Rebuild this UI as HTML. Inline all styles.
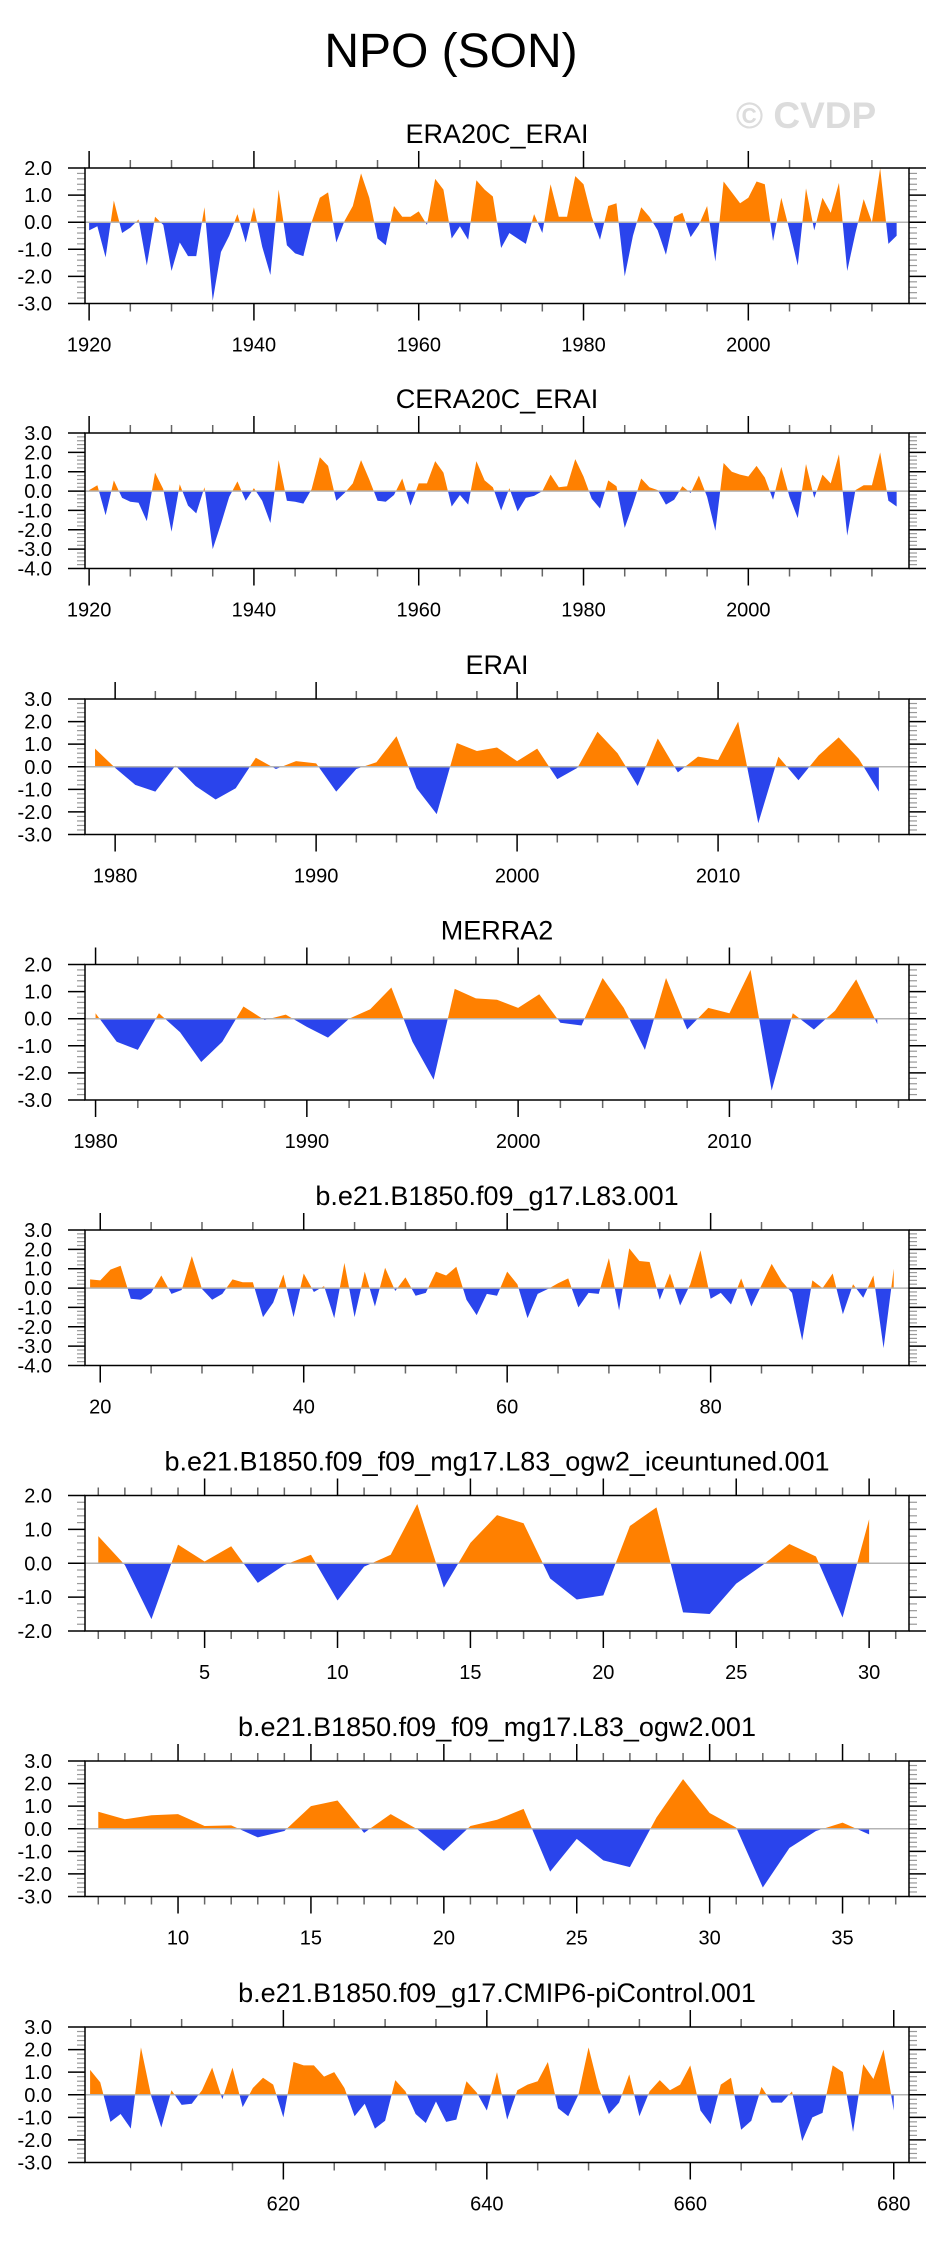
<!DOCTYPE html>
<html><head><meta charset="utf-8"><style>
html,body{margin:0;padding:0;background:#fff;}
svg{display:block;font-family:"Liberation Sans",Arial,sans-serif;}
</style></head><body>
<svg id="fig" width="930" height="2241" viewBox="0 0 930 2241" xmlns="http://www.w3.org/2000/svg">
<text x="451" y="67" font-size="48" text-anchor="middle">NPO (SON)</text>
<text x="806" y="128" font-size="37" font-weight="bold" fill="#dcdcdc" text-anchor="middle">© CVDP</text>
</svg>
<script>
const era20cYears0 = 1920;
const era20cValues = [-0.3,-0.15,-1.3,0.8,-0.4,-0.2,0.1,-1.6,0.2,-0.1,-1.8,-0.75,-1.25,-1.25,0.55,-2.9,-1.1,-0.5,0.3,-0.75,0.55,-0.9,-1.95,1.2,-0.85,-1.15,-1.25,0.0,0.9,1.1,-0.75,0.05,0.6,1.8,0.9,-0.6,-0.85,0.6,0.2,0.2,0.4,-0.1,1.6,1.2,-0.6,-0.15,-0.65,1.55,1.2,0.95,-0.95,-0.4,-0.6,-0.8,0.3,-0.4,1.4,0.2,0.2,1.7,1.4,0.2,-0.65,0.6,0.7,-2.0,-0.5,0.55,0.2,-0.3,-1.2,0.2,0.35,-0.55,-0.1,0.6,-1.45,1.5,1.1,0.7,0.9,1.5,1.4,-0.7,0.9,-0.3,-1.6,1.25,-0.3,0.9,0.35,1.45,-1.8,-0.4,0.85,0.0,2.0,-0.8,-0.5];
const cera20cYears0 = 1920;
const cera20cValues = [0.05,0.3,-1.25,0.55,-0.35,-0.55,-0.6,-1.55,0.95,0.1,-2.1,0.35,-0.75,-1.15,0.2,-3.0,-1.7,-0.3,0.5,-0.5,0.15,-0.5,-1.65,1.6,-0.5,-0.55,-0.65,0.1,1.75,1.3,-0.5,-0.1,0.4,1.6,0.6,-0.5,-0.55,-0.2,0.65,-0.75,0.4,0.4,1.55,0.95,-0.8,-0.2,-0.7,1.55,0.55,0.2,-1.0,0.15,-1.05,-0.35,-0.25,0.0,0.85,0.2,0.25,1.65,0.75,-0.4,-0.9,0.55,0.25,-1.9,-0.7,0.65,0.2,0.05,-0.7,-0.45,0.25,-0.1,0.8,-0.3,-2.05,1.45,1.0,0.85,0.75,1.3,0.7,-0.45,1.25,-0.3,-1.4,1.4,-0.35,0.85,0.4,1.9,-2.3,0.05,0.3,0.3,2.0,-0.5,-0.8];
const eraiYears0 = 1979;
const eraiValues = [0.8,-0.05,-0.8,-1.1,0.05,-0.85,-1.45,-0.95,0.4,-0.1,0.25,0.15,-1.1,-0.1,0.2,1.35,-0.95,-2.1,1.05,0.7,0.85,0.25,0.8,-0.55,-0.05,1.55,0.6,-0.85,1.25,-0.25,0.45,0.3,2.0,-2.5,0.45,-0.6,0.5,1.3,0.35,-1.1];
const merraYears0 = 1980;
const merraValues = [0.2,-0.85,-1.15,0.2,-0.5,-1.6,-0.85,0.45,-0.05,0.15,-0.3,-0.7,0.0,0.35,1.15,-0.85,-2.25,1.1,0.75,0.7,0.4,0.9,-0.15,-0.25,1.5,0.4,-1.15,1.5,-0.4,0.4,0.2,1.8,-2.65,0.2,-0.4,0.3,1.45,-0.2];
const g17Years0 = 19;
const g17Values = [0.45,0.4,0.95,1.15,-0.55,-0.6,-0.25,0.65,-0.3,-0.1,1.65,-0.05,-0.6,-0.3,0.45,0.3,0.3,-1.5,-0.75,0.7,-1.5,0.75,-0.2,0.1,-1.55,1.3,-1.5,0.85,-0.95,1.05,-0.15,0.55,-0.4,-0.25,0.85,0.65,1.1,-0.6,-1.4,-0.3,-0.4,0.85,0.2,-1.55,-0.3,-0.05,0.25,0.5,-1.0,-0.25,-0.3,1.55,-1.15,2.05,1.4,1.35,-0.6,0.75,-0.9,0.2,1.95,-0.55,-0.25,-0.85,0.5,-0.95,0.15,1.25,0.35,-0.25,-2.7,0.4,0.0,0.75,-1.35,0.2,-0.5,0.65,-3.1,1.0];
const iceYears0 = 1;
const iceValues = [0.8,-0.05,-1.65,0.55,0.05,0.5,-0.58,-0.05,0.25,-1.1,-0.1,0.25,1.75,-0.72,0.6,1.42,1.18,-0.45,-1.07,-0.95,1.1,1.65,-1.45,-1.5,-0.6,-0.05,0.57,0.2,-1.6,1.3];
const ogwYears0 = 7;
const ogwValues = [0.75,0.42,0.6,0.65,0.12,0.15,-0.38,-0.1,1.0,1.25,-0.18,0.65,-0.02,-0.98,0.12,0.4,0.88,-1.9,-0.45,-1.4,-1.7,0.5,2.2,0.7,0.05,-2.6,-0.85,-0.1,0.27,-0.25];
const piYears0 = 601;
const piValues = [1.1,0.55,-1.2,-0.85,-1.5,2.1,-0.05,-1.45,0.2,-0.45,-0.4,0.2,1.2,-0.2,1.2,-0.55,0.3,0.75,0.45,-1.0,1.45,1.3,1.3,0.8,1.0,0.3,-0.95,-0.4,-1.5,-1.15,0.65,0.15,-0.85,-1.25,-0.3,-1.2,-1.1,0.6,0.1,-0.7,1.0,-1.1,0.2,0.45,0.6,1.45,-0.6,-0.95,0.0,2.1,0.3,-0.85,-0.35,0.9,-0.95,0.15,0.65,0.2,0.45,1.3,-0.7,-1.3,0.45,0.75,-1.55,-1.15,0.35,-0.35,-0.35,0.15,-2.05,-1.0,-0.8,1.3,1.0,-1.65,1.35,0.7,2.0,-0.7];

const panels = [
 {name:'era20c-erai', title:'ERA20C_ERAI', top:168, y0:era20cYears0, vals:era20cValues, ymax:2, ymin:-3, minorX:5, majorX:20},
 {name:'cera20c-erai', title:'CERA20C_ERAI', top:433, y0:cera20cYears0, vals:cera20cValues, ymax:3, ymin:-4, minorX:5, majorX:20},
 {name:'erai', title:'ERAI', top:699, y0:eraiYears0, vals:eraiValues, ymax:3, ymin:-3, minorX:2, majorX:10},
 {name:'merra2', title:'MERRA2', top:964.5, y0:merraYears0, vals:merraValues, ymax:2, ymin:-3, minorX:2, majorX:10},
 {name:'b1850-g17', title:'b.e21.B1850.f09_g17.L83.001', top:1230, y0:g17Years0, vals:g17Values, ymax:3, ymin:-4, minorX:5, majorX:20},
 {name:'b1850-iceuntuned', title:'b.e21.B1850.f09_f09_mg17.L83_ogw2_iceuntuned.001', top:1495.5, y0:iceYears0, vals:iceValues, ymax:2, ymin:-2, minorX:1, majorX:5},
 {name:'b1850-ogw2', title:'b.e21.B1850.f09_f09_mg17.L83_ogw2.001', top:1761, y0:ogwYears0, vals:ogwValues, ymax:3, ymin:-3, minorX:1, majorX:5},
 {name:'b1850-picontrol', title:'b.e21.B1850.f09_g17.CMIP6-piControl.001', top:2027, y0:piYears0, vals:piValues, ymax:3, ymin:-3, minorX:5, majorX:20}
];
const NS='http://www.w3.org/2000/svg';
const svg=document.getElementById('fig');
const L=85, R=909, H=135.5;
function mk(tag, attrs, parent){const e=document.createElementNS(NS,tag);for(const k in attrs)e.setAttribute(k,attrs[k]);(parent||svg).appendChild(e);return e;}

panels.forEach((p,pi)=>{
  const g=mk('g',{});
  
  
  const n=p.vals.length, xmin=p.y0-0.5, xmax=p.y0+n-1+1.5;
  const top=p.top, bot=top+H;
  const X=v=>L+(v-xmin)/(xmax-xmin)*(R-L);
  const Y=v=>top+(p.ymax-v)/(p.ymax-p.ymin)*H;
  const t=mk('text',{x:497,y:top-25,'font-size':27,'text-anchor':'middle'},g);
  t.textContent=p.title;
  
  
  const cA=mk('clipPath',{id:'ca'+pi},g); mk('rect',{x:L,y:top,width:R-L,height:Y(0)-top},cA);
  const cB=mk('clipPath',{id:'cb'+pi},g); mk('rect',{x:L,y:Y(0),width:R-L,height:bot-Y(0)},cB);
  let d='M'+X(p.y0)+','+Y(0);
  p.vals.forEach((v,i)=>{d+=' L'+X(p.y0+i).toFixed(2)+','+Y(v).toFixed(2);});
  d+=' L'+X(p.y0+n-1)+','+Y(0)+' Z';
  const pos=mk('path',{d:d,fill:'#ff8000','clip-path':'url(#ca'+pi+')'},g);
  
  
  const neg=mk('path',{d:d,fill:'#2a44ec','clip-path':'url(#cb'+pi+')'},g);
  
  
  const z=mk('line',{x1:L,x2:R,y1:Y(0),y2:Y(0),stroke:'#b4b4b4','stroke-width':1.5},g);
  
  
  for(let k=Math.round(p.ymin*5);k<=Math.round(p.ymax*5);k++){
    const v=k/5, y=Y(v), major=(k%5===0);
    const len=major?17:8, col=major?'#000':'#999';
    mk('line',{x1:L-len,x2:L,y1:y,y2:y,stroke:col,'stroke-width':major?1.5:1.2},g);
    mk('line',{x1:R,x2:R+len,y1:y,y2:y,stroke:col,'stroke-width':major?1.5:1.2},g);
    if(major){
      const lb=mk('text',{x:52,y:y+7,'font-size':20,'text-anchor':'end'},g);
      lb.textContent=v.toFixed(1);
      
      
    }
  }
  const s=Math.ceil(xmin/p.minorX)*p.minorX;
  for(let v=s; v<=xmax; v+=p.minorX){
    const x=X(v), major=(v%p.majorX===0);
    const len=major?17:8, col=major?'#000':'#666';
    mk('line',{x1:x,x2:x,y1:top-len,y2:top,stroke:col,'stroke-width':1.5},g);
    mk('line',{x1:x,x2:x,y1:bot,y2:bot+len,stroke:col,'stroke-width':1.5},g);
    if(major){
      const lb=mk('text',{x:x,y:bot+48,'font-size':20,'text-anchor':'middle'},g);
      lb.textContent=String(v);
      
      
    }
  }
  const fr=mk('rect',{x:L,y:top,width:R-L,height:H,fill:'none',stroke:'#000','stroke-width':1.5},g);
  
  
});
</script>
</body></html>
